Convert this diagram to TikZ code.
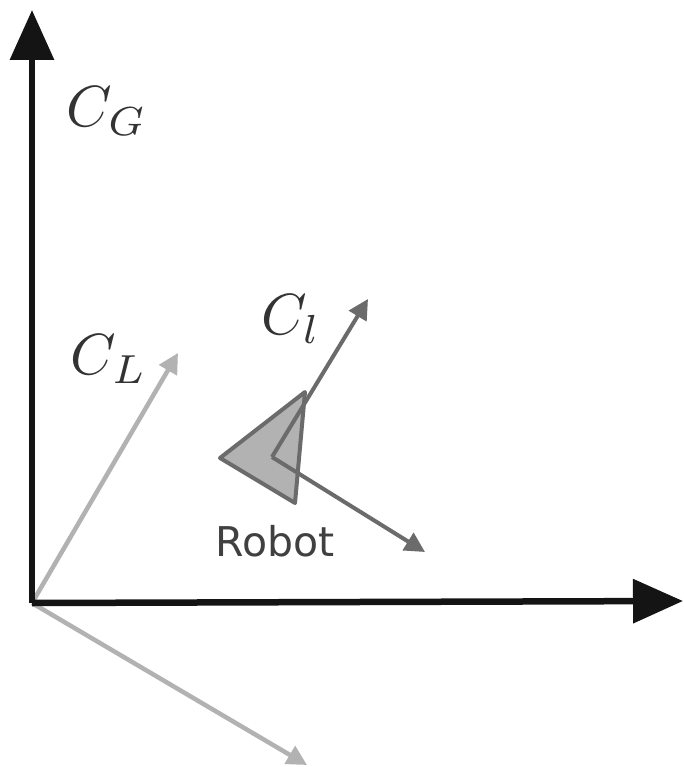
\documentclass[tikz,border=0pt]{standalone}
\usepackage{fontspec}
\setsansfont{DejaVu Sans}
\usetikzlibrary{arrows.meta}
\definecolor{axisc}{gray}{0.08}
\definecolor{lgray}{gray}{0.70}
\definecolor{mgray}{gray}{0.42}
\tikzset{
 x=1pt,y=-1pt,
 axisline/.style={draw=axisc,line width=6.5pt,-{Triangle[length=50pt,width=43pt,fill=axisc]}},
 lightarrow/.style={draw=lgray,line width=4.5pt,-{Triangle[length=20pt,width=20pt,fill=lgray]}},
 midarrow/.style={draw=mgray,line width=4pt,-{Triangle[length=20pt,width=20pt,fill=mgray]}},
 lab/.style={inner sep=0pt,text=black!80,scale=5.8}
}
\begin{document}
\begin{tikzpicture}
\useasboundingbox[fill=white] (0,0) rectangle (683,767);
\coordinate (O) at (32,603);
\coordinate (gy) at (32,10);
\coordinate (gx) at (683,601);
\coordinate (ly) at (178,353);
\coordinate (lx) at (307,765);
\coordinate (rc) at (272,457);
\coordinate (ry) at (368,299);
\coordinate (rx) at (425,552);
\draw[lightarrow] (O) -- (ly);
\draw[lightarrow] (O) -- (lx);
\fill[lgray] (220,458) -- (305,392) -- (295,503) -- cycle;
\draw[mgray,line width=4pt,line join=round] (220,458) -- (305,392) -- (295,503) -- cycle;
\draw[midarrow] (rc) -- (ry);
\draw[midarrow] (rc) -- (rx);
\draw[axisline] (O) -- (gy);
\draw[axisline] (O) -- (gx);
\node[lab] (cg) at (107,111) {$C_G$};
\node[lab] (cl) at (109,359) {$C_L$};
\node[lab] (cs) at (291,319) {$C_l$};
\node[inner sep=0pt,font=\sffamily\fontsize{41}{44}\selectfont,text=black!75] (rb) at (275,541) {Robot};
\end{tikzpicture}
\end{document}
